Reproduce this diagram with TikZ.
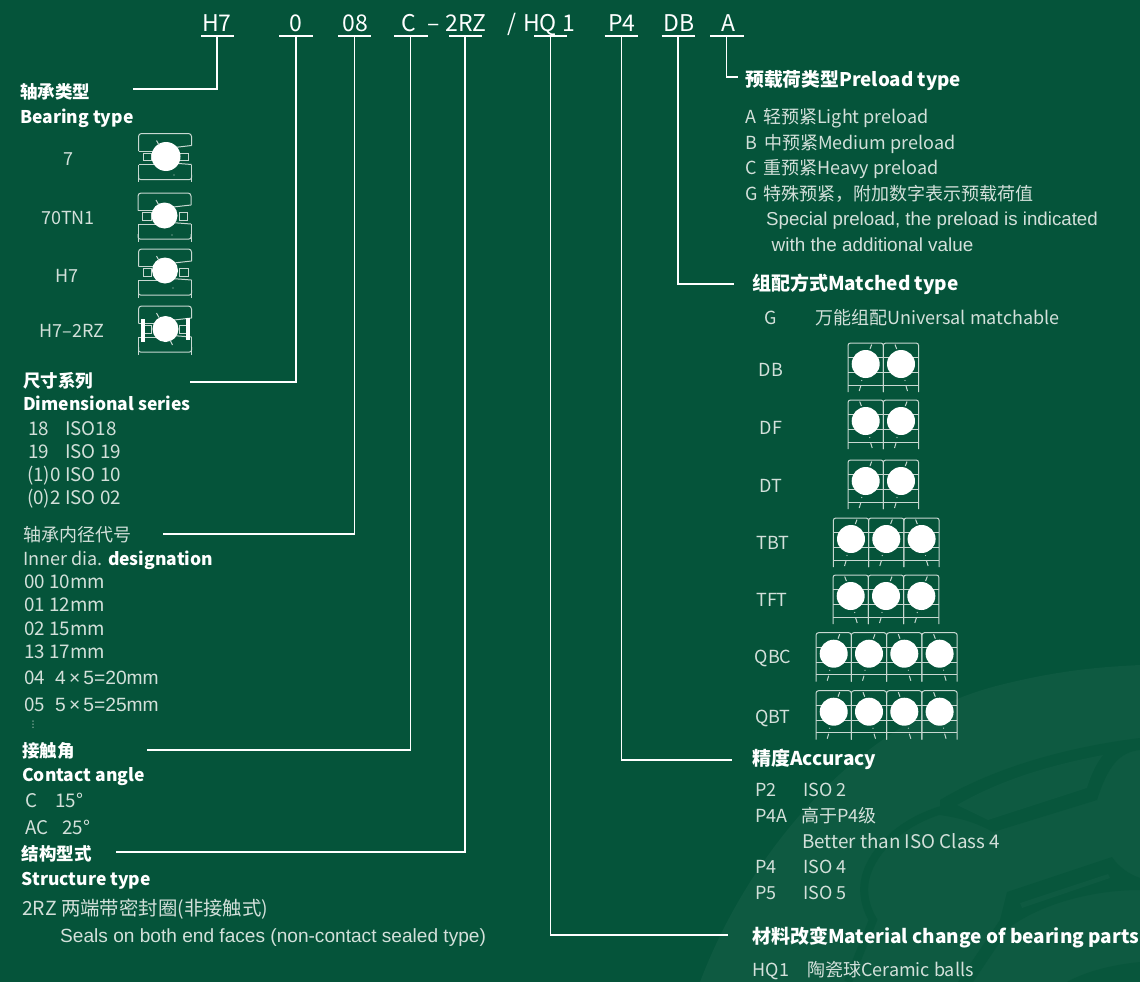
\documentclass[tikz,border=0pt]{standalone}
\usepackage{fontspec}
\setmainfont{Noto Sans CJK SC}
\newfontfamily\arialfont{Liberation Sans}
\newfontfamily\dotsfont{DejaVu Sans}
\usetikzlibrary{calc}
\definecolor{bgreen}{HTML}{05543A}
\definecolor{lgreen}{HTML}{0E5A41}
\definecolor{mgreen}{HTML}{08563C}
\definecolor{bodytxt}{HTML}{D3E0DA}
\definecolor{bearline}{HTML}{C8D8D1}
\tikzset{>=latex}
\tikzset{
  txt/.style={anchor=base west,inner sep=0pt,text=bodytxt,font=\fontsize{18}{20}\selectfont},
  listtxt/.style={anchor=base west,inner sep=0pt,text=bodytxt,font=\fontsize{18.8}{20}\selectfont},
  lbl/.style={anchor=base,inner sep=0pt,text=bodytxt,font=\fontsize{18}{20}\selectfont},
  headtxt/.style={anchor=base west,inner sep=0pt,text=white,font=\fontsize{19}{21}\selectfont\bfseries},
  lefthead/.style={anchor=base west,inner sep=0pt,text=white,font=\fontsize{17.5}{21}\selectfont\bfseries},
  arialtxt/.style={anchor=base west,inner sep=0pt,text=bodytxt,font=\fontsize{#1}{20}\selectfont\arialfont},
  arialtxt/.default=18.8,
  codetxt/.style={anchor=base,inner sep=0pt,text=white,font=\fontsize{23}{25}\selectfont},
  codebar/.style={draw=white,line width=1.2pt},
  leader/.style={draw=white,line width=1.2pt},
  bear/.style={draw=bearline,line width=1pt},
  ball/.style={fill=white}
}
% one cell of a matched set, #3 = direction of the contact line
\newcommand{\bearcell}[3]{
  \begin{scope}[shift={(#1,#2)}]
    \draw[bear,rounded corners=2.5] (0,49) -- (0,0) -- (35.3,0) -- (35.3,49);
    \draw[bear] (0,14.5) -- (35.3,14.5);
    \draw[bear] (0,29.5) -- (35.3,29.5);
    \draw[bear] (0,42) -- (35.3,42);
    \fill[ball] (17.7,21) circle (14);
    \draw[bear] ({17.7+#3*4.3},6) -- ({17.7+#3*6},1.5);
    \draw[bear] ({17.7-#3*5},43) -- ({17.7-#3*6.5},48);
    \fill[bearline] ({17.7-#3*4},37.5) circle (0.6);
  \end{scope}
}
% single bearing section, #3 #4 = ball centre, #5 = ball radius
\newcommand{\singlebear}[5]{
  \begin{scope}[shift={(#1,#2)}]
    \draw[bear,rounded corners=3] (0,17.5) -- (0,0) -- (53,0) -- (53,12);
    \draw[bear] (0,31) -- (0,48.5);
    \draw[bear] (53,31) -- (53,48.5);
    \draw[bear,rounded corners=2] (0,41) -- (0,46) -- (53,46) -- (53,41);
    \draw[bear] (0,17.5) -- (#3,17.5);
    \draw[bear] (53,12) -- (#3,15);
    \draw[bear] (0,31) -- (#3,31);
    \draw[bear] (53,31) -- (#3,29);
    \draw[bear] (4.5,19.5) rectangle (13,27);
    \draw[bear] (41,19.5) rectangle (49.5,27);
    \fill[ball] (#3,#4) circle (#5);
    \draw[bear] (18,7) -- (20.5,11.5);
  \end{scope}
}
\begin{document}
\begin{tikzpicture}[x=1pt,y=-1pt]
        \useasboundingbox (0,0) rectangle (1140,982);
        \fill[bgreen] (0,0) rectangle (1140,982);

        % Faint leaf in the lower right corner
        \fill[lgreen] (700,982) .. controls (750,850) and (860,720) .. (1000,685) .. controls (1060,670) and (1100,667) .. (1140,665) -- (1140,982) -- cycle;
        \draw[mgreen,line width=8pt] (945,809) .. controls (905,820) and (878,845) .. (868,870) .. controls (860,890) and (866,908) .. (873,920) -- (848,982);
        \fill[mgreen] (940,800) .. controls (990,770) and (1060,748) .. (1140,738) -- (1140,750) .. controls (1120,752) and (1108,765) .. (1097,800) -- (993,832) .. controls (975,822) and (960,818) .. (940,815) -- cycle;
        \fill[lgreen] (957,805) .. controls (1000,780) and (1050,765) .. (1103,755) .. controls (1095,765) and (1090,778) .. (1087,788) -- (988,820) -- cycle;
        \fill[mgreen] (1007,892) -- (1112,857) .. controls (1118,866) and (1128,874) .. (1140,878) -- (1140,890) .. controls (1090,890) and (1040,905) .. (1010,927) -- (973,982) -- (958,982) -- (1000,920) -- cycle;
        \fill[lgreen] (1020,903) -- (1108,874) -- (1110,878) -- (1022,908) -- cycle;
        \fill[mgreen] (1067,982) .. controls (1085,972) and (1110,965) .. (1140,962) -- (1140,982) -- cycle;

        % Designation across the top
        \foreach \nm/\xt/\lab/\xa/\xb/\xc in {hseven/217/H7/201/234/217,series/296/0/279/312.5/296,bore/355/08/338/371/354.4,angle/408.5/C/394/427.5/410.7,seal/466/2RZ/449/482/465,hqb/540/HQ/534/567/550.4,prec/622/P4/604.5/638/621.6,match/679/DB/661.6/695/678,load/728/A/710.4/744/726.7}{
          \node[codetxt] (\nm) at (\xt,32) {\lab};
          \draw[codebar] (\xa,36) -- (\xb,36);
          \coordinate (\nm foot) at (\xc,36);
        }
        \node[codetxt] (dash) at (433.5,32) {–};
        \node[codetxt] (slash) at (512.5,32) {/};
        \node[codetxt] (hqone) at (569,32) {1};

        % Leaders down to the headings
        \coordinate (typeend) at (133,89);
        \coordinate (seriesend) at (190,382);
        \coordinate (boreend) at (163,534);
        \coordinate (angleend) at (147,750);
        \coordinate (sealend) at (116,852);
        \coordinate (hqend) at (728,935);
        \coordinate (precend) at (732,760);
        \coordinate (matchend) at (734,284);
        \coordinate (loadend) at (738,77);
        \draw[leader] (hsevenfoot) |- (typeend);
        \draw[leader] (seriesfoot) |- (seriesend);
        \draw[leader] (borefoot) |- (boreend);
        \draw[leader] (anglefoot) |- (angleend);
        \draw[leader] (sealfoot) |- (sealend);
        \draw[leader] (hqbfoot) |- (hqend);
        \draw[leader] (precfoot) |- (precend);
        \draw[leader] (matchfoot) |- (matchend);
        \draw[leader] (loadfoot) |- (loadend);

        % Bearing type, left column
        \node[lefthead] (typecn) at (20,98) {轴承类型};
        \node[lefthead] (typeen) at (20,123) {Bearing type};
        \node[lbl] (tseven) at (68,165) {7};
        \node[lbl] (tseventy) at (68,224) {70TN1};
        \node[lbl] (thseven) at (67,282) {H7};
        \node[lbl] (thrz) at (72,337) {H7–2RZ};
        \singlebear{138.5}{133.5}{27.5}{23}{14.5}
        \singlebear{138}{193}{26.5}{22.5}{13}
        \singlebear{138.5}{249}{26.5}{21.5}{13}
        \singlebear{138.5}{306}{27}{23}{13}
        \fill[white] (140.5,319) rectangle (145,342);
        \fill[white] (186,318) rectangle (189.5,340);
        \draw[bear] (170,340) -- (172.5,345);
        \fill[bearline] (174,175) circle (0.6);
        \fill[bearline] (172,235) circle (0.6);
        \fill[bearline] (173,288) circle (0.6);

        % Dimensional series
        \node[lefthead] (seriescn) at (23,387) {尺寸系列};
        \node[lefthead] (seriesen) at (23,410) {Dimensional series};
        \node[listtxt] (seriesa) at (28,435) {18};
        \node[listtxt] (isoa) at (65,435) {ISO18};
        \node[listtxt] (seriesb) at (28,458) {19};
        \node[listtxt] (isob) at (65,458) {ISO 19};
        \node[listtxt] (seriesc) at (27,481.5) {(1)0};
        \node[listtxt] (isoc) at (65,481.5) {ISO 10};
        \node[listtxt] (seriesd) at (27,504) {(0)2};
        \node[listtxt] (isod) at (65,504) {ISO 02};

        % Inner diameter
        \node[txt] (borecn) at (23,541.5) {轴承内径代号};
        \node[txt] (boreen) at (23,565) {Inner dia. {\fontsize{17.5}{20}\selectfont\bfseries\color{white}designation}};
        \node[listtxt] (borea) at (24,588) {00 10mm};
        \node[listtxt] (boreb) at (24,611.5) {01 12mm};
        \node[listtxt] (borec) at (24,635) {02 15mm};
        \node[listtxt] (bored) at (24,658) {13 17mm};
        \node[listtxt] (boree) at (24,684) {04};
        \node[arialtxt=19.2] (boreef) at (55,684) {4\,×\,5=20mm};
        \node[listtxt] (boref) at (24,711.5) {05};
        \node[arialtxt=19.2] (borefg) at (55,711.5) {5\,×\,5=25mm};
        \node[anchor=base,inner sep=0pt,text=bodytxt,font=\fontsize{9}{10}\selectfont\dotsfont] (boredots) at (33,727) {⋮};

        % Contact angle
        \node[lefthead] (anglecn) at (22,757) {接触角};
        \node[lefthead] (angleen) at (22,781) {Contact angle};
        \node[listtxt] (anglec) at (25,807) {C};
        \node[listtxt] (anglecv) at (55,807) {15°};
        \node[listtxt] (angleac) at (25,834) {AC};
        \node[listtxt] (angleacv) at (62,834) {25°};

        % Structure type
        \node[lefthead] (sealcn) at (21.5,860.5) {结构型式};
        \node[lefthead] (sealen) at (21.5,885) {Structure type};
        \node[anchor=base west,inner sep=0pt,text=bodytxt,font=\fontsize{19.4}{20}\selectfont] (sealrz) at (22,915) {2RZ 两端带密封圈(非接触式)};
        \node[arialtxt=19.1] (sealtxt) at (60,942.5) {Seals on both end faces (non-contact sealed type)};

        % Preload type, right column
        \node[headtxt,font=\fontsize{18.8}{21}\selectfont\bfseries] (loadhead) at (745,86) {预载荷类型Preload type};
        \node[txt] (loada) at (745,123.5) {A\hspace{7pt}轻预紧Light preload};
        \node[txt] (loadb) at (745,149) {B\hspace{7pt}中预紧Medium preload};
        \node[txt] (loadc) at (745,174.5) {C\hspace{7pt}重预紧Heavy preload};
        \node[txt] (loadg) at (745,200) {G\hspace{6pt}特殊预紧，附加数字表示预载荷值};
        \node[arialtxt=18.7] (loadgb) at (766,225.5) {Special preload, the preload is indicated};
        \node[arialtxt=18.9] (loadgc) at (771.5,251.5) {with the additional value};

        % Matched type
        \node[headtxt] (matchhead) at (752,290.5) {组配方式Matched type};
        \node[txt] (matchg) at (764,324) {G};
        \node[txt] (matchgt) at (815,324) {万能组配Universal matchable};
        \node[lbl] (mdb) at (771,376) {DB};
        \node[lbl] (mdf) at (771,434) {DF};
        \node[lbl] (mdt) at (771,492) {DT};
        \node[lbl] (mtbt) at (773,549) {TBT};
        \node[lbl] (mtft) at (772,606) {TFT};
        \node[lbl] (mqbc) at (773,663) {QBC};
        \node[lbl] (mqbt) at (773,723) {QBT};
        \foreach \s [count=\i from 0] in {1,-1} {\bearcell{848+35.3*\i}{343}{\s}}
        \foreach \s [count=\i from 0] in {-1,1} {\bearcell{848+35.3*\i}{400}{\s}}
        \foreach \s [count=\i from 0] in {1,1} {\bearcell{848+35.3*\i}{460}{\s}}
        \foreach \s [count=\i from 0] in {1,1,-1} {\bearcell{833.3+35.3*\i}{518}{\s}}
        \foreach \s [count=\i from 0] in {-1,1,1} {\bearcell{833+35.3*\i}{575}{\s}}
        \foreach \s [count=\i from 0] in {1,1,-1,-1} {\bearcell{816+35.3*\i}{632.7}{\s}}
        \foreach \s [count=\i from 0] in {1,-1,-1,-1} {\bearcell{816+35.3*\i}{690.7}{\s}}

        % Accuracy
        \node[headtxt] (prechead) at (752,765) {精度Accuracy};
        \node[txt] (pa) at (755,796.5) {P2};
        \node[txt] (pat) at (803,796.5) {ISO 2};
        \node[txt] (pb) at (755,822) {P4A};
        \node[txt] (pbt) at (801,822) {高于P4级};
        \node[listtxt] (pbe) at (802,848) {Better than ISO Class 4};
        \node[txt] (pc) at (755,873) {P4};
        \node[txt] (pct) at (803,873) {ISO 4};
        \node[txt] (pd) at (755,899) {P5};
        \node[txt] (pdt) at (803,899) {ISO 5};

        % Material change
        \node[headtxt] (hqhead) at (752,943) {材料改变Material change of bearing parts};
        \node[txt] (hqa) at (752.5,976) {HQ1};
        \node[txt] (hqat) at (807,976) {陶瓷球Ceramic balls};
\end{tikzpicture}
\end{document}
